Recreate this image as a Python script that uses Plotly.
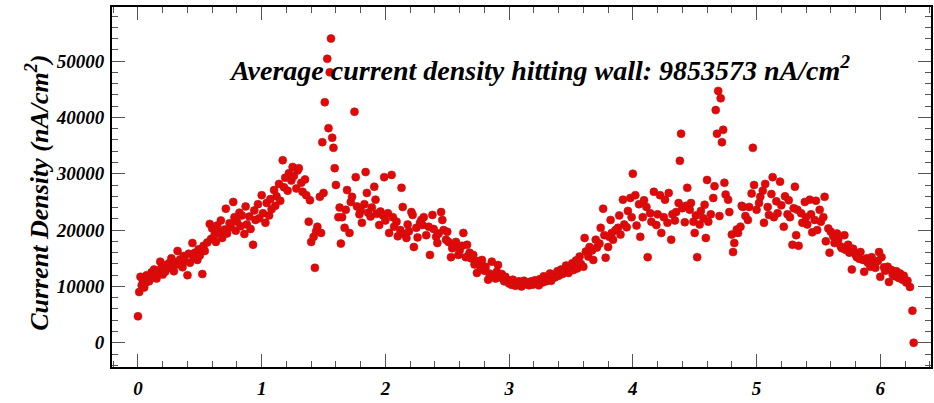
import plotly.graph_objects as go

# Angle around the wall (rad) and current density (nA/cm^2)
theta = [
    0.00, 0.01, 0.02, 0.03, 0.04, 0.05, 0.06, 0.07, 0.08, 0.09, 0.10, 0.11, 0.12, 0.13, 0.14, 0.15, 0.16,
    0.18, 0.19, 0.20, 0.21, 0.22, 0.24, 0.25, 0.27, 0.28, 0.29, 0.30, 0.32, 0.33, 0.34, 0.36, 0.37, 0.38,
    0.40, 0.41, 0.42, 0.44, 0.45, 0.46, 0.48, 0.49, 0.50, 0.52, 0.53, 0.54,
    0.56, 0.58, 0.59, 0.60, 0.62, 0.63, 0.64, 0.66, 0.67, 0.68, 0.70, 0.71, 0.72, 0.74, 0.75, 0.77, 0.78,
    0.79, 0.80, 0.82, 0.83, 0.84, 0.86, 0.87, 0.88, 0.90, 0.91, 0.93, 0.94, 0.95, 0.97, 0.98, 1.00, 1.01,
    1.03, 1.04, 1.06, 1.07, 1.08, 1.10, 1.11, 1.12, 1.14, 1.15, 1.17, 1.18, 1.19, 1.21, 1.22, 1.24, 1.25,
    1.26, 1.28, 1.29, 1.30, 1.32, 1.33, 1.35, 1.36, 1.38, 1.39, 1.40, 1.42, 1.43, 1.44, 1.45, 1.47, 1.48,
    1.49, 1.50, 1.51, 1.53, 1.54, 1.55, 1.56, 1.57,
    1.58, 1.59, 1.60, 1.62, 1.63, 1.64, 1.65, 1.67, 1.68, 1.69, 1.71, 1.72, 1.73, 1.75, 1.76, 1.77, 1.79,
    1.80, 1.81, 1.83, 1.84, 1.85, 1.86, 1.88, 1.89, 1.91, 1.92, 1.93, 1.95, 1.96, 1.98, 1.99, 2.00, 2.02,
    2.03, 2.05, 2.06, 2.07,
    2.09, 2.10, 2.12, 2.13, 2.14, 2.15, 2.17, 2.18, 2.19, 2.21, 2.22, 2.23, 2.25, 2.26, 2.28, 2.29, 2.30,
    2.31, 2.33, 2.35, 2.36, 2.38, 2.39, 2.41, 2.42, 2.43, 2.45, 2.46, 2.47, 2.49, 2.50, 2.51, 2.53, 2.54,
    2.56, 2.57, 2.59, 2.60, 2.62, 2.63, 2.65, 2.66, 2.68, 2.69, 2.71, 2.72, 2.74, 2.75, 2.77, 2.78, 2.80,
    2.81, 2.83, 2.84, 2.86, 2.87, 2.89, 2.90, 2.91, 2.93, 2.94, 2.96, 2.97, 2.99, 3.00,
    3.02, 3.03, 3.05, 3.06, 3.08, 3.09, 3.10, 3.12, 3.13, 3.15, 3.16, 3.18, 3.19, 3.21, 3.22, 3.24, 3.25,
    3.27, 3.28, 3.30, 3.31, 3.33, 3.34, 3.36, 3.37, 3.39, 3.40, 3.42, 3.43, 3.45, 3.46, 3.48, 3.49, 3.51,
    3.52, 3.54, 3.55, 3.57, 3.58, 3.60,
    3.61, 3.62, 3.64, 3.65, 3.67, 3.68, 3.70, 3.71, 3.73, 3.74, 3.76, 3.77, 3.78, 3.80, 3.81, 3.82, 3.83,
    3.84, 3.86, 3.88, 3.89, 3.90, 3.92, 3.93, 3.95, 3.96, 3.98, 3.99, 4.00, 4.02, 4.03, 4.05, 4.06, 4.08,
    4.09, 4.11, 4.12, 4.14, 4.15, 4.17, 4.19, 4.20, 4.22, 4.23,
    4.25, 4.26, 4.28, 4.29, 4.31, 4.32, 4.34, 4.35, 4.37, 4.38, 4.39, 4.40, 4.42, 4.43, 4.44, 4.46, 4.47,
    4.49, 4.50, 4.51, 4.52, 4.54, 4.55, 4.57, 4.58, 4.59, 4.60, 4.61, 4.63, 4.65, 4.66, 4.67, 4.68, 4.69,
    4.70, 4.71, 4.72, 4.73, 4.74, 4.75, 4.77, 4.78, 4.80, 4.81, 4.82, 4.84, 4.85, 4.87, 4.88, 4.89, 4.91,
    4.93, 4.94, 4.96, 4.97, 4.98, 5.00,
    5.02, 5.03, 5.05, 5.06, 5.07, 5.09, 5.10, 5.12, 5.13, 5.14, 5.16, 5.17, 5.19, 5.20, 5.22, 5.23, 5.25,
    5.26, 5.27, 5.29, 5.30,
    5.31, 5.32, 5.33, 5.34, 5.36, 5.37, 5.39, 5.40, 5.41, 5.43, 5.44, 5.45, 5.47, 5.48, 5.49, 5.51, 5.52,
    5.54, 5.55, 5.56, 5.58, 5.59, 5.60, 5.62, 5.63, 5.65, 5.66, 5.68, 5.69, 5.71, 5.72, 5.74, 5.75, 5.77,
    5.78, 5.80, 5.81, 5.83, 5.84, 5.86, 5.87, 5.89, 5.90, 5.92, 5.93, 5.95, 5.96, 5.98, 5.99, 6.00, 6.01,
    6.03, 6.04, 6.06, 6.07, 6.09, 6.10, 6.12, 6.13, 6.15, 6.16, 6.18, 6.19, 6.21, 6.22, 6.24, 6.26, 6.27,
]

current_density = [
    4700, 9000, 11700, 10200, 11000, 9800, 10600, 12000, 11300, 10900, 11800, 12500, 11600, 13000, 12200, 11400, 12800,
    14400, 13300, 12100, 13800, 12600, 13200, 14100, 15000, 13600, 12700, 14300, 16300, 13900, 14800, 13400, 15400, 14500,
    12000, 15800, 14200, 17700, 15200, 16000, 14700, 16600, 15500, 12200, 17200, 16300,
    17800, 21100, 18400, 20300, 19200, 17900, 20800, 19600, 21700, 18600, 20100, 23800, 19400, 21200, 20500, 25000, 22300,
    19900, 21500, 23100, 20700, 22600, 19300, 24200, 21000, 22400, 20200, 17400, 23500, 21800, 24600, 22100, 26200, 23000,
    21300, 24800, 22600, 25500, 23700, 27100, 24300, 26000, 28200, 25200, 32400, 27600, 29300, 27000, 30100, 28800, 31200,
    29600, 27400, 30600, 31000, 28400, 26800, 29000, 26200, 21500, 25300, 17900, 18800, 13300, 19800, 20600, 25900, 19500,
    35600, 26600, 42700, 50400, 38100, 48000, 54000, 36400,
    34600, 31000, 28000, 22300, 24000, 17600, 22300, 20400, 23600, 27100, 19500, 25000, 25900, 41000, 29400, 24200, 22800,
    23500, 21300, 24600, 30300, 26600, 23100, 22400, 24000, 27700, 25400, 22900, 20900, 23300, 22600, 29400, 21700, 23000,
    19500, 29800, 22300, 20600,
    21500, 18900, 20000, 27500, 24100, 19300, 18600, 21000, 19800, 23200, 22700, 17000, 20400, 18700, 21300, 21800, 20900,
    22300, 19100, 20600, 15600, 22700, 20200, 18800, 17700, 19400, 23200, 21800, 20000, 18300, 19700, 17900, 15200, 16800,
    17300, 17900, 15600, 16400, 17200, 19500, 15200, 17400, 16000, 15000, 15600, 13900, 12400, 14500, 13300, 14700, 12800,
    13500, 11200, 12300, 14400, 12000, 11400, 12600, 13800, 11600, 12200, 10900, 11700, 11100, 10500,
    10300, 11200, 10100, 10600, 10900, 10200, 10000, 11000, 10400, 10700, 10200, 10900, 10300, 11100, 10500, 10200, 11300,
    10700, 11800, 10900, 11400, 12300, 11000, 12000, 11600, 12700, 11900, 13000, 12200, 12600, 13700, 12400, 13300, 14100,
    12900, 14600, 13200, 15300, 14000, 13500,
    18600, 16200, 15300, 17000, 16400, 14700, 18300, 16900, 17600, 20400, 23800, 19100, 15100, 17000, 18800, 21800, 19500,
    18300, 20000, 20400, 22600, 19200, 25400, 21000, 20500, 23400, 25700, 22300, 30000, 26200, 20800, 24600, 18800, 22300,
    25300, 24100, 15200, 23000, 21500, 26800, 20900, 22800, 26200, 19500,
    22300, 25400, 21300, 26600, 18300, 22800, 21700, 23200, 24800, 32300, 37100, 23900, 21400, 24300, 27500, 23600, 24800,
    21500, 19500, 22600, 15200, 21000, 23400, 22100, 24500, 18600, 28900, 21500, 22800, 25700, 27800, 41300, 37100, 44700,
    22500, 43400, 35600, 37800, 28400, 26300, 25400, 23200, 19200, 16100, 17700, 20100, 19500, 20600, 24300, 24100, 22500,
    21800, 24100, 26500, 34600, 28000, 23600,
    24800, 25900, 27000, 21300, 28200, 24100, 22700, 26400, 29400, 22300, 25100, 23000, 28600, 24400, 20600, 26000, 22800,
    25300, 22300, 17400, 23900,
    27700, 19100, 23600, 17200, 23000, 21300, 25000, 22300, 21000, 25400, 22800, 19600, 21800, 25200, 20000, 23600, 21500,
    22300, 25900, 18000, 20300, 16000, 19700, 18900, 17700, 19400, 18300, 17100, 16800, 19100, 16500, 17400, 16000, 13000,
    16700, 15700, 15200, 14900, 16100, 14700, 12600, 15000, 14200, 13500, 15200, 14000, 13300, 14500, 16100, 11700, 15200,
    13400, 12800, 13500, 10800, 12900, 12100, 11800, 12700, 11500, 12300, 11200, 11900, 10700, 11000, 9900, 5700, 0,
]

x_ticks = [0, 1, 2, 3, 4, 5, 6]
y_ticks = [0, 10000, 20000, 30000, 40000, 50000]

FONT = "Liberation Serif"

fig = go.Figure()
fig.add_trace(go.Scatter(
    x=theta, y=current_density, mode="markers",
    marker=dict(color="rgb(226,8,8)", size=8,
                line=dict(color="rgb(190,20,20)", width=0.6)),
    showlegend=False, hoverinfo="skip",
))

axis_common = dict(
    showline=True, linecolor="black", linewidth=2, mirror="ticks",
    ticks="inside", ticklen=13, tickwidth=1, tickcolor="#555555",
    showgrid=False, zeroline=False,
    tickfont=dict(family=FONT, size=19, color="black", weight="bold", style="italic"),
)

fig.update_layout(
    width=934, height=403,
    margin=dict(l=112, r=1, t=7, b=36),
    paper_bgcolor="white", plot_bgcolor="white",
    xaxis=dict(range=[-0.21, 6.41], tickvals=x_ticks, ticktext=[str(v) for v in x_ticks],
               minor=dict(dtick=0.2, tick0=0, ticks="inside", ticklen=6, tickcolor="#555555", showgrid=False),
               ticklabelstandoff=3, **axis_common),
    yaxis=dict(range=[-4300, 59600], tickvals=y_ticks, ticktext=[str(v) for v in y_ticks],
               minor=dict(dtick=2000, tick0=0, ticks="inside", ticklen=6, tickcolor="#555555", showgrid=False),
               ticklabelstandoff=2, **axis_common),
    annotations=[
        dict(text="Average current density hitting wall: 9853573 nA/cm<sup>2</sup>",
             xref="paper", yref="paper", x=0.522, y=0.83, xanchor="center", yanchor="middle",
             showarrow=False,
             font=dict(family=FONT, size=28, color="black", weight="bold", style="italic")),
        dict(text="Current Density (nA/cm<sup>2</sup>)",
             xref="paper", yref="paper", x=-0.091, y=0.485, xanchor="center", yanchor="middle",
             textangle=-90, showarrow=False,
             font=dict(family=FONT, size=26, color="black", weight="bold", style="italic")),
    ],
)

fig.write_html("out.html")
